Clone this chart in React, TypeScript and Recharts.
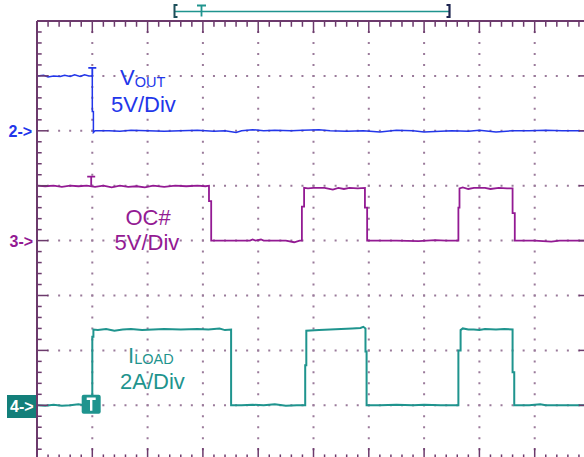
import React from 'react';
import {
  ComposedChart,
  Line,
  XAxis,
  YAxis,
  CartesianGrid,
  ReferenceLine,
  ReferenceDot,
} from 'recharts';

// time in screen divisions (0..10), level in divisions (-4..4, centre = 0)
const voutTrace: [number, number][] = [
  [0, 3.0], [0.12, 3.01], [0.2, 2.98], [0.3, 3.0], [0.42, 2.99], [0.5, 3.01],
  [0.6, 2.99], [0.68, 3.02], [0.78, 2.99], [0.86, 3.02], [0.94, 3.0], [1.0, 3.0],
  [1.0, 2.35], [1.02, 2.35], [1.02, 1.97], [1.05, 2.0], [1.3, 2.0], [1.5, 1.99],
  [1.7, 2.01], [2.0, 2.0], [2.3, 1.99], [2.6, 2.0], [2.9, 2.01], [3.2, 1.99],
  [3.4, 2.0], [3.6, 1.97], [3.7, 2.0], [3.9, 2.02], [4.1, 2.0], [4.3, 2.01],
  [4.6, 2.0], [4.8, 2.01], [5.1, 2.02], [5.3, 2.0], [5.6, 1.99], [5.9, 2.0],
  [6.2, 1.98], [6.5, 2.01], [6.8, 2.0], [7.0, 1.98], [7.3, 1.99], [7.5, 2.0],
  [7.8, 1.99], [8.0, 2.01], [8.3, 1.98], [8.6, 2.0], [8.9, 2.0], [9.2, 2.01],
  [9.5, 2.0], [9.8, 2.0], [10, 2.0],
];

const ocTrace: [number, number][] = [
  [0, 1.0], [0.15, 0.99], [0.3, 1.0], [0.45, 0.98], [0.6, 1.0], [0.75, 0.99],
  [0.9, 1.0], [1.05, 0.98], [1.2, 1.0], [1.35, 0.97], [1.5, 1.0], [1.65, 0.98],
  [1.8, 0.99], [1.95, 0.97], [2.1, 1.0], [2.3, 0.98], [2.5, 1.0], [2.7, 0.99],
  [2.9, 1.0], [3.05, 0.99], [3.11, 1.0], [3.11, 0.72], [3.15, 0.72], [3.15, 0.0],
  [3.5, 0.0], [3.85, 0.0], [3.9, 0.02], [3.95, 0.0], [4.05, 0.02], [4.1, 0.0],
  [4.5, 0.0], [4.65, -0.03], [4.75, 0.0], [4.79, 0.0], [4.79, 0.62], [4.83, 0.62],
  [4.83, 0.96], [4.9, 0.95], [5.0, 0.96], [5.2, 0.96], [5.35, 0.93], [5.45, 0.96],
  [5.55, 0.94], [5.65, 0.96], [5.8, 0.95], [5.93, 0.96], [5.93, 0.6], [5.97, 0.6],
  [5.97, 0.0], [6.5, 0.0], [6.9, -0.01], [7.2, 0.01], [7.4, 0.0], [7.62, 0.0],
  [7.62, 0.6], [7.64, 0.6], [7.64, 0.95], [7.7, 0.97], [7.8, 0.94], [7.9, 0.96],
  [8.1, 0.96], [8.2, 0.94], [8.35, 0.96], [8.5, 0.95], [8.6, 0.95], [8.6, 0.5],
  [8.64, 0.5], [8.64, 0.0], [9.0, 0.0], [9.3, -0.02], [9.45, 0.0], [9.8, 0.0],
  [10, 0.0],
];

const iloadTrace: [number, number][] = [
  [0, -3.0], [0.15, -3.01], [0.3, -2.99], [0.45, -3.01], [0.6, -3.0], [0.75, -2.98],
  [0.85, -3.0], [0.96, -2.98], [1.0, -3.0], [1.0, -1.75], [1.02, -1.75], [1.02, -1.62],
  [1.1, -1.63], [1.25, -1.61], [1.4, -1.64], [1.55, -1.62], [1.7, -1.61], [1.9, -1.63],
  [2.1, -1.62], [2.3, -1.61], [2.6, -1.62], [2.9, -1.61], [3.1, -1.62], [3.3, -1.6],
  [3.4, -1.63], [3.51, -1.62], [3.51, -3.0], [3.7, -3.0], [3.9, -2.99], [4.1, -3.0],
  [4.3, -2.98], [4.5, -3.01], [4.7, -3.0], [4.85, -3.0], [4.85, -2.27], [4.87, -2.27],
  [4.87, -1.64], [5.1, -1.63], [5.3, -1.62], [5.5, -1.61], [5.7, -1.6], [5.85, -1.59],
  [5.9, -1.57], [5.94, -1.6], [5.94, -2.02], [5.96, -2.02], [5.96, -3.0], [6.2, -3.0],
  [6.5, -2.99], [6.8, -3.0], [7.0, -2.99], [7.3, -3.0], [7.62, -3.0], [7.62, -2.0],
  [7.66, -2.0], [7.66, -1.63], [7.7, -1.6], [7.8, -1.62], [7.9, -1.62], [8.0, -1.63],
  [8.1, -1.61], [8.3, -1.62], [8.45, -1.61], [8.6, -1.62], [8.6, -2.4], [8.63, -2.4],
  [8.63, -3.0], [8.9, -3.0], [9.1, -2.98], [9.2, -3.0], [9.5, -3.0], [10, -3.0],
];

const xTicks = [0, 1, 2, 3, 4, 5, 6, 7, 8, 9, 10];
const yTicks = [-4, -3, -2, -1, 0, 1, 2, 3, 4];
const trigger = { vout: [1.0, 3.0], oc: [0.98, 1.0], iload: [0.98, -3.0] };

const BLUE = '#2236ea';
const PURPLE = '#931a93';
const TEAL = '#1f948e';
const FRAME = '#6c3a6c';
const DOT = '#9a7a9a';

const toPts = (arr: [number, number][]) => arr.map(([t, v]) => ({ t, v }));

// border tick marks every 1/5 division
const hMinor = Array.from({ length: 51 }, (_, i) => i / 5);
const vMinor = Array.from({ length: 41 }, (_, i) => -4 + i / 5);
const isMajor = (n: number) => Math.abs(n - Math.round(n)) < 1e-6;

function TMark(color: string, h: number) {
  return (p: any) => (
    <path
      d={`M${p.cx - 4},${p.cy - h} H${p.cx + 4} M${p.cx},${p.cy - h} V${p.cy}`}
      stroke={color}
      strokeWidth={1.8}
      fill="none"
    />
  );
}

function BoxT(p: any) {
  const cx = p.cx;
  const cy = p.cy - 1;
  return (
    <g>
      <rect x={cx - 9.5} y={cy - 9.5} width={19} height={19} rx={2} fill={TEAL} />
      <path
        d={`M${cx - 4.5},${cy - 5.5} H${cx + 4.5} M${cx},${cy - 5.5} V${cy + 6.5}`}
        stroke="#fff"
        strokeWidth={2.4}
        fill="none"
      />
    </g>
  );
}

const font = 'Liberation Sans, Arial, sans-serif';

export default function App() {
  return (
    <div
      style={{
        position: 'absolute',
        left: 0,
        top: 0,
        width: 584,
        height: 457,
        overflow: 'hidden',
        background: '#fff',
      }}
    >
      <ComposedChart
        width={600}
        height={470}
        margin={{ top: 21, left: 37, right: 10, bottom: 9.8 }}
      >
        <XAxis dataKey="t" type="number" domain={[0, 10]} ticks={xTicks} hide />
        <YAxis type="number" domain={[-4, 4]} ticks={yTicks} hide />
        <CartesianGrid
          horizontal={(p: any) => (
            <line
              key={p.key}
              x1={p.x1}
              y1={p.y1}
              x2={p.x2}
              y2={p.y2}
              stroke={DOT}
              strokeWidth={2}
              strokeDasharray="2 9.06"
              strokeDashoffset={1}
            />
          )}
          vertical={(p: any) => (
            <line
              key={p.key}
              x1={p.x1}
              y1={p.y1}
              x2={p.x2}
              y2={p.y2}
              stroke={DOT}
              strokeWidth={2}
              strokeDasharray="2 8.98"
              strokeDashoffset={1}
            />
          )}
        />

        <Line
          data={toPts(voutTrace)}
          dataKey="v"
          type="linear"
          stroke={BLUE}
          strokeWidth={1.5}
          dot={false}
          isAnimationActive={false}
        />
        <Line
          data={toPts(ocTrace)}
          dataKey="v"
          type="linear"
          stroke={PURPLE}
          strokeWidth={1.8}
          dot={false}
          isAnimationActive={false}
        />
        <Line
          data={toPts(iloadTrace)}
          dataKey="v"
          type="linear"
          stroke={TEAL}
          strokeWidth={2}
          dot={false}
          isAnimationActive={false}
        />

        {/* frame */}
        <ReferenceLine y={4} stroke={FRAME} strokeWidth={2} />
        <ReferenceLine y={-4} stroke={FRAME} strokeWidth={2} />
        <ReferenceLine x={0} stroke={FRAME} strokeWidth={2} />
        <ReferenceLine x={10} stroke={FRAME} strokeWidth={2} />
        {hMinor.map((t) => {
          const len = isMajor(t) ? 0.22 : 0.105;
          return (
            <React.Fragment key={'h' + t}>
              <ReferenceLine
                segment={[{ x: t, y: 4 }, { x: t, y: 4 - len }]}
                stroke={FRAME}
                strokeWidth={1.5}
              />
              <ReferenceLine
                segment={[{ x: t, y: -4 }, { x: t, y: -4 + len }]}
                stroke={FRAME}
                strokeWidth={1.5}
              />
            </React.Fragment>
          );
        })}
        {vMinor.map((v) => {
          const len = isMajor(v) ? 0.2 : 0.085;
          return (
            <React.Fragment key={'v' + v}>
              <ReferenceLine
                segment={[{ x: 0, y: v }, { x: len, y: v }]}
                stroke={FRAME}
                strokeWidth={1.5}
              />
              <ReferenceLine
                segment={[{ x: 10 - len, y: v }, { x: 10, y: v }]}
                stroke={FRAME}
                strokeWidth={1.5}
              />
            </React.Fragment>
          );
        })}

        <ReferenceDot x={trigger.vout[0]} y={trigger.vout[1]} shape={TMark(BLUE, 8)} />
        <ReferenceDot x={trigger.oc[0]} y={trigger.oc[1]} shape={TMark(PURPLE, 9)} />
        <ReferenceDot x={trigger.iload[0]} y={trigger.iload[1]} shape={BoxT} />
      </ComposedChart>

      <svg
        width={584}
        height={457}
        style={{ position: 'absolute', left: 0, top: 0, pointerEvents: 'none' }}
        fontFamily={font}
      >
        {/* trigger position bar */}
        <line x1={174} y1={11.5} x2={450} y2={11.5} stroke={TEAL} strokeWidth={1.5} />
        <path d="M177.5,5 H174.5 V17 H177.5" stroke="#1d4f5a" strokeWidth={2} fill="none" />
        <path d="M446.5,5 H449.5 V17 H446.5" stroke="#1f2550" strokeWidth={2.2} fill="none" />
        <path d="M197,5.5 H206 M201.5,5.5 V16.5" stroke={TEAL} strokeWidth={1.8} fill="none" />

        {/* channel markers */}
        <text x={8.5} y={136.5} fontSize={16} fontWeight="bold" fill={BLUE}>2-&gt;</text>
        <text x={9.5} y={246.5} fontSize={16} fontWeight="bold" fill={PURPLE}>3-&gt;</text>
        <rect x={7} y={395} width={29} height={23} fill="#137f7a" />
        <text x={10} y={412} fontSize={16} fontWeight="bold" fill="#fff">4-&gt;</text>

        {/* labels */}
        <text x={120} y={85} fontSize={22} fill={BLUE}>
          V<tspan fontSize={14.5} dy={1.5}>OUT</tspan>
        </text>
        <text x={111} y={111.5} fontSize={22} fill={BLUE}>5V/Div</text>
        <text x={125.5} y={225} fontSize={22} fill={PURPLE}>OC#</text>
        <text x={114.5} y={250} fontSize={22} fill={PURPLE}>5V/Div</text>
        <text x={128} y={363} fontSize={22} fill={TEAL}>
          I<tspan fontSize={14.5} dy={0.5}>LOAD</tspan>
        </text>
        <text x={120} y={389} fontSize={22} fill={TEAL}>2A/Div</text>
      </svg>
    </div>
  );
}
